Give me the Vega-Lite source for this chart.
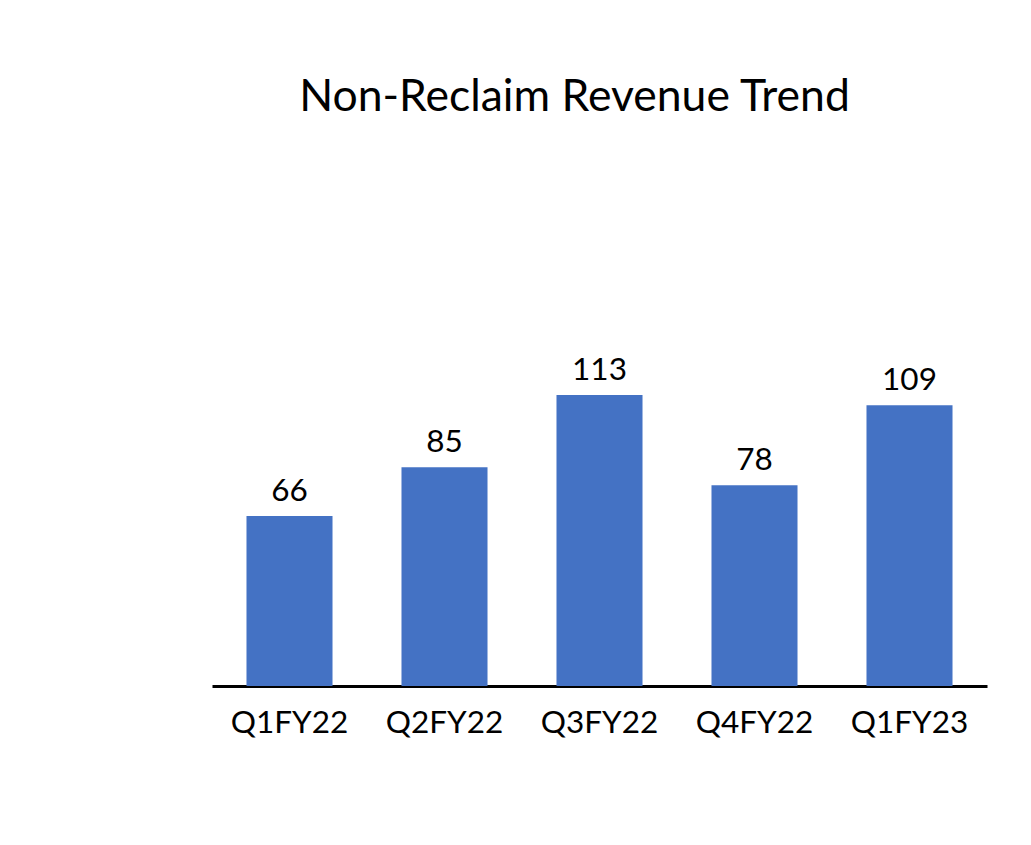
{
  "$schema": "https://vega.github.io/schema/vega-lite/v6.json",
  "width": 775,
  "height": 309,
  "autosize": {"type": "none"},
  "padding": {"left": 212, "right": 44, "top": 377, "bottom": 159},
  "background": "white",
  "config": {"view": {"stroke": null}, "font": "Lato"},
  "title": {
    "text": "Non-Reclaim Revenue Trend",
    "font": "Lato",
    "fontSize": 44.5,
    "fontWeight": "normal",
    "color": "#000000",
    "anchor": "middle",
    "frame": "group",
    "baseline": "alphabetic",
    "offset": 200,
    "dx": -25
  },
  "data": {
    "values": [
      {"quarter": "Q1FY22", "revenue": 66},
      {"quarter": "Q2FY22", "revenue": 85},
      {"quarter": "Q3FY22", "revenue": 113},
      {"quarter": "Q4FY22", "revenue": 78},
      {"quarter": "Q1FY23", "revenue": 109}
    ]
  },
  "encoding": {
    "x": {
      "field": "quarter",
      "type": "nominal",
      "sort": null,
      "scale": {"paddingInner": 0.445, "paddingOuter": 0.2225},
      "axis": {
        "title": null,
        "labelAngle": 0,
        "labelFont": "Lato",
        "labelFontSize": 31.5,
        "labelColor": "#000000",
        "labelBaseline": "alphabetic",
        "labelPadding": 46,
        "ticks": false,
        "domainColor": "#000000",
        "domainWidth": 3,
        "grid": false
      }
    },
    "y": {
      "field": "revenue",
      "type": "quantitative",
      "scale": {"domain": [0, 120], "nice": false},
      "axis": null
    }
  },
  "layer": [
    {"mark": {"type": "bar", "color": "#4472C4"}},
    {
      "mark": {"type": "text", "baseline": "alphabetic", "dy": -15, "fontSize": 31.5, "font": "Lato", "color": "#000000"},
      "encoding": {"text": {"field": "revenue", "type": "quantitative"}}
    }
  ]
}
